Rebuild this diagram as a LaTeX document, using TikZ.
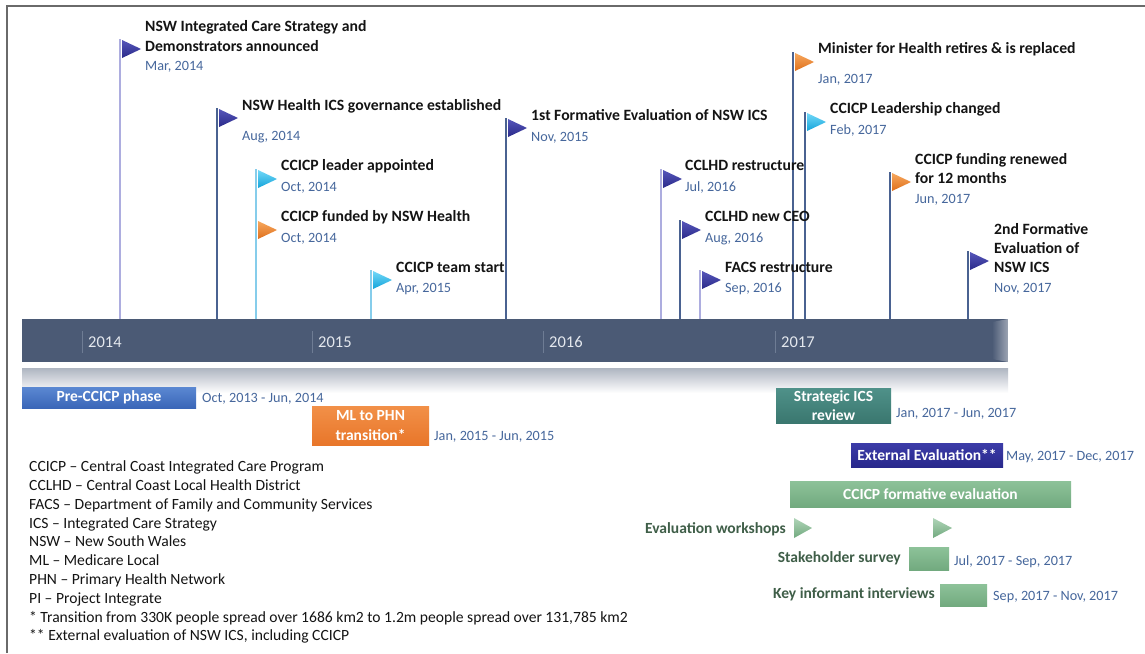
\documentclass[tikz,border=0pt]{standalone}
\usepackage{fontspec}
\setmainfont{Carlito}
\usetikzlibrary{calc}

\definecolor{framegray}{HTML}{6A6A6A}
\definecolor{barcol}{HTML}{4B5A75}
\definecolor{tickcol}{HTML}{6E7C94}
\definecolor{yeartext}{HTML}{E4E8EE}
\definecolor{polelav}{HTML}{ADADDF}
\definecolor{poledark}{HTML}{4A6291}
\definecolor{polecyan}{HTML}{86CDEB}
\definecolor{fdarkT}{HTML}{5656BA}
\definecolor{fdarkB}{HTML}{2A2A8A}
\definecolor{fcyanT}{HTML}{72D8F8}
\definecolor{fcyanB}{HTML}{14A4DA}
\definecolor{foranT}{HTML}{F7A85E}
\definecolor{foranB}{HTML}{DF701C}
\definecolor{datecol}{HTML}{46679C}
\definecolor{titlecol}{HTML}{141414}
\definecolor{greentext}{HTML}{3F5E48}
\definecolor{blueT}{HTML}{5B88D2}
\definecolor{blueB}{HTML}{3A66B8}
\definecolor{oranT}{HTML}{F29048}
\definecolor{oranB}{HTML}{E8762A}
\definecolor{tealT}{HTML}{4F9189}
\definecolor{tealB}{HTML}{3A776F}
\definecolor{navyT}{HTML}{3C3CA8}
\definecolor{navyB}{HTML}{28288C}
\definecolor{grnT}{HTML}{8DC299}
\definecolor{grnB}{HTML}{72AA7F}

% right-pointing event flag hanging off a pole top
\newcommand{\drawflag}[3]{%
  \shade[top color=#2, bottom color=#3]
    ([shift={(2,1)}]#1) -- ([shift={(21,10)}]#1) -- ([shift={(2,19)}]#1) -- cycle;}

\begin{document}
\begin{tikzpicture}[x=1pt, y=-1pt,
  ttl/.style={font=\fontsize{15.7}{18}\selectfont\bfseries, text=titlecol, inner sep=0pt, anchor=base west},
  dt/.style={font=\fontsize{14.2}{16}\selectfont, text=datecol, inner sep=0pt, anchor=base west},
  lg/.style={font=\fontsize{15.6}{18}\selectfont, text=titlecol, inner sep=0pt, anchor=base west},
  gtxt/.style={font=\fontsize{15.5}{18}\selectfont\bfseries, text=greentext, inner sep=0pt, anchor=base east},
  yr/.style={font=\fontsize{16.5}{18}\selectfont, text=yeartext, inner sep=0pt, anchor=base west},
  boxtxt/.style={font=\fontsize{15.5}{19.5}\selectfont\bfseries, text=white, align=center, inner sep=0pt},
  phase/.style={shade, shading angle=0, minimum width=#1, inner sep=0pt},
  pole/.style={line width=1.4pt},
  ytick/.style={draw=tickcol, line width=0.8pt}]

\useasboundingbox (0,0) rectangle (1145,653);
\fill[white] (0,0) rectangle (1145,653);

% frame edges
\draw[framegray, line width=2.4pt] (7,653) -- (7,6) -- (1145,6);

% ---- timeline bar ----
\node[fill=barcol, minimum width=986pt, minimum height=43pt, inner sep=0pt, anchor=north west] (bar) at (22,319) {};
\shade[left color=barcol, right color=barcol!55!white] (992,322) -- (1008,319) -- (1008,362) -- (992,359) -- cycle;
\shade[top color=barcol!45!white, bottom color=white] (22,368) rectangle (1008,393);

% year ticks and labels
\foreach \xx/\yy in {82/2014, 312/2015, 543/2016, 775/2017}{
  \draw[ytick] (\xx,331) -- (\xx,353);
  \node[yr] (y\yy) at (\xx+6,347) {\yy};
}

% ---- event poles ----
\coordinate (e1) at (120,39);
\coordinate (e2) at (217,108);
\coordinate (e3) at (256,169);
\coordinate (e4) at (256,220);
\coordinate (e5) at (371,270);
\coordinate (e6) at (506,118);
\coordinate (e7) at (661,169);
\coordinate (e8) at (680,220);
\coordinate (e9) at (700,270);
\coordinate (e10) at (793,52);
\coordinate (e11) at (805,112);
\coordinate (e12) at (890,172);
\coordinate (e13) at (968,251);

\draw[pole, polelav]  (e1) -- (e1 |- bar.north);
\draw[pole, poledark] (e2) -- (e2 |- bar.north);
\draw[pole, polecyan] (e3) -- (e3 |- bar.north);
\draw[pole, polecyan] (e5) -- (e5 |- bar.north);
\draw[pole, poledark] (e6) -- (e6 |- bar.north);
\draw[pole, polelav]  (e7) -- (e7 |- bar.north);
\draw[pole, poledark] (e8) -- (e8 |- bar.north);
\draw[pole, polelav]  (e9) -- (e9 |- bar.north);
\draw[pole, poledark] (e10) -- (e10 |- bar.north);
\draw[pole, poledark] (e11) -- (e11 |- bar.north);
\draw[pole, poledark] (e12) -- (e12 |- bar.north);
\draw[pole, poledark] (e13) -- (e13 |- bar.north);

% ---- flags ----
\drawflag{e1}{fdarkT}{fdarkB}
\drawflag{e2}{fdarkT}{fdarkB}
\drawflag{e3}{fcyanT}{fcyanB}
\drawflag{e4}{foranT}{foranB}
\drawflag{e5}{fcyanT}{fcyanB}
\drawflag{e6}{fdarkT}{fdarkB}
\drawflag{e7}{fdarkT}{fdarkB}
\drawflag{e8}{fdarkT}{fdarkB}
\drawflag{e9}{fdarkT}{fdarkB}
\drawflag{e10}{foranT}{foranB}
\drawflag{e11}{fcyanT}{fcyanB}
\drawflag{e12}{foranT}{foranB}
\drawflag{e13}{fdarkT}{fdarkB}

% ---- event texts ----
\node[ttl] (t1a) at (145,31.5) {NSW Integrated Care Strategy and};
\node[ttl] (t1b) at (145,51.5) {Demonstrators announced};
\node[dt]  (d1)  at (145,70) {Mar, 2014};

\node[ttl] (t2) at (242,110.5) {NSW Health ICS governance established};
\node[dt]  (d2) at (242,140) {Aug, 2014};

\node[ttl] (t3) at (281,170.5) {CCICP leader appointed};
\node[dt]  (d3) at (281,191) {Oct, 2014};

\node[ttl] (t4) at (281,221.5) {CCICP funded by NSW Health};
\node[dt]  (d4) at (281,242) {Oct, 2014};

\node[ttl] (t5) at (396,272.5) {CCICP team start};
\node[dt]  (d5) at (396,292) {Apr, 2015};

\node[ttl] (t6) at (531,120.5) {1st Formative Evaluation of NSW ICS};
\node[dt]  (d6) at (531,141) {Nov, 2015};

\node[ttl] (t7) at (685,170.5) {CCLHD restructure};
\node[dt]  (d7) at (685,191) {Jul, 2016};

\node[ttl] (t8) at (705,221.5) {CCLHD new CEO};
\node[dt]  (d8) at (705,242) {Aug, 2016};

\node[ttl] (t9) at (725,272.5) {FACS restructure};
\node[dt]  (d9) at (725,292) {Sep, 2016};

\node[ttl] (t10) at (818,53.5) {Minister for Health retires \& is replaced};
\node[dt]  (d10) at (818,83) {Jan, 2017};

\node[ttl] (t11) at (830,113.5) {CCICP Leadership changed};
\node[dt]  (d11) at (830,134) {Feb, 2017};

\node[ttl] (t12a) at (915,164.5) {CCICP funding renewed};
\node[ttl] (t12b) at (915,183.5) {for 12 months};
\node[dt]  (d12)  at (915,203) {Jun, 2017};

\node[ttl] (t13a) at (994,234.5) {2nd Formative};
\node[ttl] (t13b) at (994,253.5) {Evaluation of};
\node[ttl] (t13c) at (994,272.5) {NSW ICS};
\node[dt]  (d13)  at (994,292) {Nov, 2017};

% ---- phase boxes ----
\node[phase=174pt, top color=blueT, bottom color=blueB, minimum height=21pt] (pre) at (109,397.5) {};
\node[boxtxt] at (pre) {Pre-CCICP phase};
\node[dt, anchor=base west] (rpre) at (202,402) {Oct, 2013 - Jun, 2014};

\node[phase=117pt, top color=oranT, bottom color=oranB, minimum height=39pt] (ml) at (370.5,425.5) {};
\node[boxtxt] at (ml) {ML to PHN\\transition*};
\node[dt] (rml) at (434,440) {Jan, 2015 - Jun, 2015};

\node[phase=115pt, top color=tealT, bottom color=tealB, minimum height=35pt] (sr) at (833.5,405.5) {};
\node[boxtxt] at (sr) {Strategic ICS\\review};
\node[dt] (rsr) at (896,417) {Jan, 2017 - Jun, 2017};

\node[phase=152pt, top color=navyT, bottom color=navyB, minimum height=24pt] (ext) at (927,455) {};
\node[boxtxt] at (ext) {External Evaluation**};
\node[dt] (rext) at (1006,460) {May, 2017 - Dec, 2017};

\node[phase=281pt, top color=grnT, bottom color=grnB, minimum height=26pt] (form) at (930.5,494) {};
\node[boxtxt] at (form) {CCICP formative evaluation};

% evaluation workshops
\node[gtxt] (ew) at (786,533.5) {Evaluation workshops};
\shade[top color=grnT!70!white, bottom color=grnB] (794,518) -- (812,528) -- (794,538) -- cycle;
\shade[top color=grnT!70!white, bottom color=grnB] (933,518) -- (952,528) -- (933,538) -- cycle;

% stakeholder survey
\node[gtxt] (ss) at (901,562.5) {Stakeholder survey};
\node[phase=40pt, top color=grnT, bottom color=grnB, minimum height=23pt] (ssb) at (929,558.5) {};
\node[dt] (rss) at (954,565) {Jul, 2017 - Sep, 2017};

% key informant interviews
\node[gtxt] (ki) at (935,598.5) {Key informant interviews};
\node[phase=47pt, top color=grnT, bottom color=grnB, minimum height=22pt] (kib) at (963.5,595) {};
\node[dt] (rki) at (993,600) {Sep, 2017 - Nov, 2017};

% ---- abbreviations ----
\node[lg] (l1)  at (29,471.5) {CCICP – Central Coast Integrated Care Program};
\node[lg] (l2)  at (29,490.5) {CCLHD – Central Coast Local Health District};
\node[lg] (l3)  at (29,509.5) {FACS – Department of Family and Community Services};
\node[lg] (l4)  at (29,528) {ICS – Integrated Care Strategy};
\node[lg] (l5)  at (29,546.5) {NSW – New South Wales};
\node[lg] (l6)  at (29,565.5) {ML – Medicare Local};
\node[lg] (l7)  at (29,584) {PHN – Primary Health Network};
\node[lg] (l8)  at (29,603) {PI – Project Integrate};
\node[lg] (l9)  at (29,622) {* Transition from 330K people spread over 1686 km2 to 1.2m people spread over 131,785 km2};
\node[lg] (l10) at (29,640.5) {** External evaluation of NSW ICS, including CCICP};

\end{tikzpicture}
\end{document}
